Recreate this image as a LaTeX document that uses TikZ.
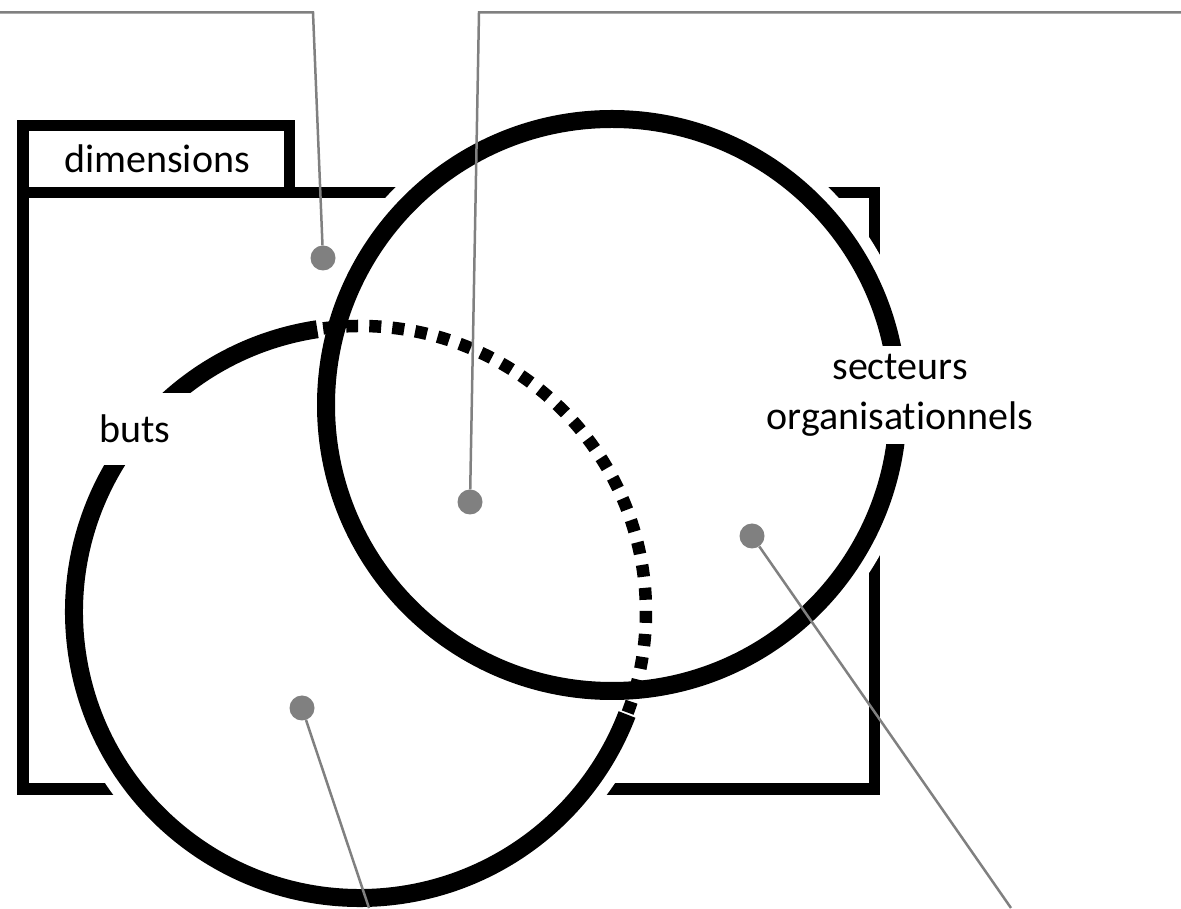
\documentclass[tikz,border=0pt]{standalone}
\usepackage{fontspec}
\setmainfont{Carlito}[Ligatures=NoCommon]
\definecolor{calloutgray}{HTML}{808080}
\begin{document}
\begin{tikzpicture}[x=1pt,y=1pt,
  frame/.style={draw=black, line width=11.5pt, line join=miter},
  ring/.style={draw=black, line width=18pt},
  ringdash/.style={draw=black, line width=12.5pt, dash pattern=on 12pt off 11.1pt},
  halo/.style={fill=white, draw=white, line width=42pt},
  callout/.style={draw=calloutgray, line width=2.5pt},
  pin/.style={circle, fill=calloutgray, minimum size=25pt, inner sep=0pt},
  lbl/.style={font=\fontsize{40}{50}\selectfont, text=black}
]
\useasboundingbox (0,0) rectangle (1181,908);

% frame with its tab
\draw[frame] (22.75,715.25) rectangle (874.25,118.75);
\draw[frame] (22.75,715.25) rectangle (289.5,782.25);
\node[lbl] (dim) at (157,749) {dimensions};

% circle centres
\coordinate (cB) at (360,296);
\coordinate (cS) at (612,503);

% white discs clear the frame around and inside the circles
\path[halo] (cB) circle[radius=286];
\path[halo] (cS) circle[radius=286];

% circles: the part of "buts" lying inside the other circle is dashed
\draw[ring] (cS) circle[radius=286];
\draw[ring] (cB) ++(98.6:286) arc[start angle=98.6, end angle=339, radius=286];
\draw[ringdash] (cB) ++(97.4:286) arc[start angle=97.4, end angle=-20.6, radius=286];

% labels
\node[lbl, fill=white, minimum height=72pt, inner xsep=20pt] (buts) at (135,479) {buts};
\node[lbl, fill=white, align=center, inner sep=8pt] (sect) at (900,513) {secteurs\\organisationnels};

% callout pins
\node[pin] (p1) at (323,650) {};
\node[pin] (p2) at (470,406) {};
\node[pin] (p3) at (302,200) {};
\node[pin] (p4) at (752,372) {};

% callout ends
\coordinate (e1) at (0,895.5);
\coordinate (k1) at (313,895.5);
\coordinate (e2) at (1181,895.5);
\coordinate (k2) at (479,895.5);
\coordinate (e3) at (369,0);
\coordinate (e4) at (1011,0);

\draw[callout] (p1) -- (k1) -- (e1);
\draw[callout] (p2) -- (k2) -- (e2);
\draw[callout] (p3) -- (e3);
\draw[callout] (p4) -- (e4);
\end{tikzpicture}
\end{document}
